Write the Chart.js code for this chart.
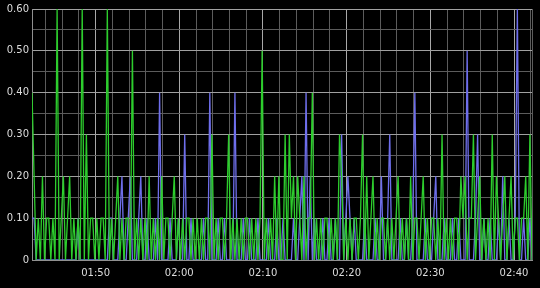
<!DOCTYPE html>
<html>
<head>
<meta charset="utf-8">
<script src="https://cdn.jsdelivr.net/npm/chart.js@4"></script>
<style>
  html, body { margin: 0; padding: 0; background: #000; }
  #wrap { width: 540px; height: 288px; }
</style>
</head>
<body>
<div id="wrap"><canvas id="myChart"></canvas></div>
<script>
// minutes after midnight; one sample every 15 s
const startMinute = 102.4;
const stepMinutes = 0.25;

const greenValues = [
  0.4, 0.2, 0, 0.1, 0, 0.2, 0, 0.1, 0.1, 0,
  0.1, 0, 0.6, 0, 0.1, 0.2, 0, 0.1, 0.2, 0,
  0.1, 0, 0.1, 0, 0.6, 0, 0.3, 0, 0.1, 0.1,
  0, 0.1, 0, 0.1, 0.1, 0, 0.6, 0, 0.1, 0,
  0.1, 0.2, 0, 0.1, 0, 0.1, 0.1, 0, 0.5, 0,
  0.1, 0, 0.1, 0, 0.1, 0, 0.2, 0, 0.1, 0,
  0.1, 0, 0.2, 0, 0.1, 0.1, 0, 0.1, 0.2, 0,
  0.1, 0, 0.1, 0, 0.1, 0.1, 0, 0.1, 0, 0.1,
  0, 0.1, 0, 0.1, 0.1, 0, 0.3, 0, 0.1, 0,
  0.1, 0.1, 0, 0.1, 0.3, 0, 0.1, 0, 0.1, 0,
  0.1, 0, 0.1, 0.1, 0, 0.1, 0, 0.1, 0, 0.1,
  0.5, 0, 0.1, 0, 0.1, 0, 0.2, 0, 0.2, 0,
  0, 0.3, 0, 0.3, 0.1, 0.2, 0, 0.2, 0.1, 0,
  0.2, 0, 0.1, 0.1, 0.4, 0, 0.1, 0, 0.1, 0,
  0.1, 0.1, 0, 0.1, 0, 0.1, 0, 0.3, 0.2, 0,
  0.1, 0, 0.1, 0, 0.1, 0.1, 0, 0.1, 0.3, 0,
  0.2, 0, 0.1, 0.2, 0, 0.1, 0, 0.1, 0.1, 0,
  0.1, 0, 0.1, 0, 0.1, 0.2, 0, 0.1, 0, 0.1,
  0, 0.2, 0, 0.1, 0.1, 0, 0.1, 0.2, 0, 0.1,
  0, 0.1, 0.1, 0, 0.1, 0, 0.3, 0, 0.1, 0,
  0.1, 0, 0.1, 0.1, 0, 0.2, 0.1, 0.2, 0, 0.1,
  0.1, 0.3, 0, 0.1, 0.2, 0, 0.1, 0, 0.1, 0,
  0.3, 0, 0.2, 0.1, 0, 0.1, 0.2, 0, 0.1, 0.2,
  0, 0.1, 0.1, 0, 0.1, 0.1, 0.2, 0, 0.3, 0
];

const blueValues = [
  0.1, 0.1, 0, 0, 0, 0, 0, 0, 0, 0,
  0, 0, 0, 0, 0, 0, 0, 0, 0, 0,
  0, 0, 0.1, 0, 0, 0, 0, 0, 0, 0,
  0, 0, 0, 0, 0, 0, 0, 0.1, 0.1, 0,
  0, 0, 0.1, 0.2, 0, 0, 0.1, 0.2, 0, 0,
  0, 0.1, 0.2, 0, 0, 0.1, 0, 0, 0, 0.1,
  0, 0.4, 0, 0, 0, 0, 0.1, 0, 0, 0,
  0.1, 0, 0, 0.3, 0, 0, 0.1, 0, 0, 0,
  0, 0, 0.1, 0, 0, 0.4, 0, 0, 0, 0.1,
  0, 0, 0.1, 0, 0, 0, 0, 0.4, 0, 0,
  0, 0.1, 0, 0, 0.1, 0, 0, 0, 0.1, 0,
  0, 0, 0, 0.1, 0, 0, 0, 0.1, 0, 0,
  0.1, 0, 0, 0, 0, 0.1, 0, 0, 0.1, 0.2,
  0, 0.4, 0, 0.2, 0, 0.1, 0, 0, 0, 0.1,
  0, 0, 0.1, 0, 0, 0.1, 0, 0, 0.3, 0,
  0.1, 0.2, 0.1, 0, 0.1, 0, 0, 0, 0, 0.1,
  0, 0, 0, 0, 0.1, 0, 0, 0.2, 0, 0,
  0.1, 0.3, 0, 0, 0, 0, 0.1, 0, 0, 0.1,
  0, 0, 0.1, 0.4, 0, 0, 0, 0, 0.1, 0,
  0, 0, 0.1, 0.2, 0, 0, 0, 0.1, 0, 0,
  0, 0.1, 0, 0, 0.1, 0, 0, 0, 0.5, 0,
  0, 0, 0.1, 0.3, 0, 0, 0.1, 0, 0, 0.1,
  0, 0, 0, 0.1, 0, 0.2, 0, 0, 0.1, 0,
  0, 0.1, 0.6, 0, 0, 0.1, 0, 0, 0.1, 0
];

const xMin = startMinute;
const xMax = startMinute + stepMinutes * (greenValues.length - 1);
const xTickValues = [104, 106, 108, 110, 112, 114, 116, 118, 120, 122, 124, 126, 128, 130,
  132, 134, 136, 138, 140, 142, 144, 146, 148, 150, 152, 154, 156, 158, 160, 162];
const yTickValues = [0, 0.05, 0.1, 0.15, 0.2, 0.25, 0.3, 0.35, 0.4, 0.45, 0.5, 0.55, 0.6];

function toPoints(values) {
  return values.map((v, i) => ({ x: startMinute + i * stepMinutes, y: v }));
}

function timeLabel(v) {
  const h = Math.floor(v / 60);
  const m = Math.round(v % 60);
  return String(h).padStart(2, '0') + ':' + String(m).padStart(2, '0');
}

const isMajorY = v => Math.round(v * 100) % 10 === 0;
const isMajorX = v => Math.abs(v % 10) < 1e-6;

Chart.defaults.font.family = 'DejaVu Sans';
Chart.defaults.font.size = 10;
Chart.defaults.color = '#dddddd';

new Chart(document.getElementById('myChart'), {
  type: 'line',
  data: {
    datasets: [
      {
        label: 'green',
        data: toPoints(greenValues),
        borderColor: 'rgb(45, 205, 45)',
        borderWidth: 1.3,
        pointRadius: 0,
        tension: 0,
        order: 0
      },
      {
        label: 'blue',
        data: toPoints(blueValues),
        borderColor: 'rgb(110, 110, 235)',
        borderWidth: 1.3,
        pointRadius: 0,
        tension: 0,
        order: 1
      }
    ]
  },
  options: {
    responsive: true,
    maintainAspectRatio: false,
    animation: false,
    events: [],
    layout: { padding: { top: 9, right: 8, left: 0, bottom: 0 } },
    plugins: { legend: { display: false }, tooltip: { enabled: false } },
    scales: {
      x: {
        type: 'linear',
        min: xMin,
        max: xMax,
        afterBuildTicks: scale => {
          scale.ticks = [xMin].concat(xTickValues.filter(v => v < xMax)).concat([xMax]).map(v => ({ value: v }));
        },
        afterFit: scale => { scale.height = 28; },
        border: { display: true, color: '#909090', width: 1 },
        grid: {
          drawTicks: false,
          lineWidth: 1,
          color: ctx => (ctx.tick && isMajorX(ctx.tick.value)) ? '#a8a8a8' : '#5c5c5c'
        },
        ticks: {
          padding: 7,
          maxRotation: 0,
          autoSkip: false,
          color: '#dddddd',
          callback: v => isMajorX(v) ? timeLabel(v) : ''
        }
      },
      y: {
        min: 0,
        max: 0.6,
        afterBuildTicks: scale => {
          scale.ticks = yTickValues.map(v => ({ value: v }));
        },
        afterFit: scale => { scale.width = 32; },
        border: { display: true, color: '#909090', width: 1 },
        grid: {
          drawTicks: false,
          lineWidth: 1,
          color: ctx => (ctx.tick && isMajorY(ctx.tick.value)) ? '#a0a0a0' : '#5c5c5c'
        },
        ticks: {
          padding: 3,
          autoSkip: false,
          color: '#dddddd',
          callback: v => {
            if (!isMajorY(v)) return '';
            return v === 0 ? '0' : v.toFixed(2);
          }
        }
      }
    }
  }
});
</script>
</body>
</html>
